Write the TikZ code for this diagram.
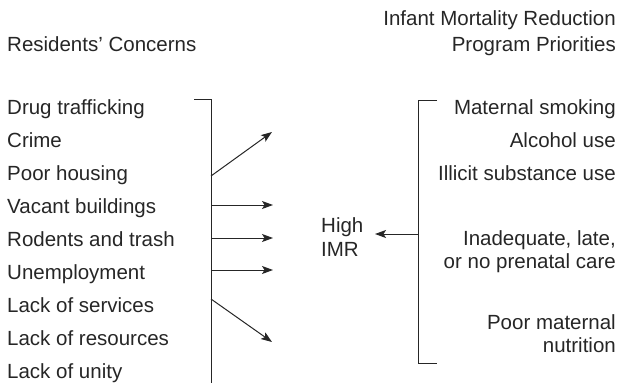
\documentclass[tikz,border=0pt]{standalone}
\usepackage{fontspec}
\setmainfont{Liberation Sans}
\usetikzlibrary{arrows.meta}
\begin{document}
\begin{tikzpicture}[x=1pt,y=-1pt,
  txt/.style={font=\fontsize{20.5}{24}\selectfont, inner sep=0pt, text=black!85},
  ltxt/.style={txt, anchor=base west},
  rtxt/.style={txt, anchor=base east},
  ln/.style={line width=1pt, black!85},
  arr/.style={ln, -{Stealth[length=11pt,width=8pt,inset=2.5pt]}}]
\useasboundingbox (0,0) rectangle (623,383);
% titles
\node[ltxt] (lt) at (7,51) {Residents’ Concerns};
\node[rtxt] (rt1) at (616,25) {Infant Mortality Reduction};
\node[rtxt] (rt2) at (616,51) {Program Priorities};
% left items
\node[ltxt] (l1) at (7,114) {Drug trafficking};
\node[ltxt] (l2) at (7,147) {Crime};
\node[ltxt] (l3) at (7,180) {Poor housing};
\node[ltxt] (l4) at (7,213) {Vacant buildings};
\node[ltxt] (l5) at (7,246) {Rodents and trash};
\node[ltxt] (l6) at (7,279) {Unemployment};
\node[ltxt] (l7) at (7,312) {Lack of services};
\node[ltxt] (l8) at (7,345) {Lack of resources};
\node[ltxt] (l9) at (7,378) {Lack of unity};
% right items
\node[rtxt] (r1) at (616,114) {Maternal smoking};
\node[rtxt] (r2) at (616,147) {Alcohol use};
\node[rtxt] (r3) at (616,180) {Illicit substance use};
\node[rtxt] (r4) at (616,245) {Inadequate, late,};
\node[rtxt] (r5) at (616,268) {or no prenatal care};
\node[rtxt] (r6) at (616,329) {Poor maternal};
\node[rtxt] (r7) at (616,352) {nutrition};
% center
\node[ltxt] (h1) at (321,232) {High};
\node[ltxt] (h2) at (321,256) {IMR};
% left bracket
\coordinate (lbt) at (211,99);
\coordinate (lbb) at (211,383);
\coordinate (lbtick) at (194,99);
\draw[ln] (lbtick) -- (lbt) -- (lbb);
\coordinate (a1s) at (211,176); \coordinate (a1e) at (272,132);
\coordinate (a2s) at (211,205); \coordinate (a2e) at (273,205);
\coordinate (a3s) at (211,238); \coordinate (a3e) at (273,238);
\coordinate (a4s) at (211,270); \coordinate (a4e) at (273,270);
\coordinate (a5s) at (211,299); \coordinate (a5e) at (272,342);
\draw[arr] (a1s) -- (a1e);
\draw[arr] (a2s) -- (a2e);
\draw[arr] (a3s) -- (a3e);
\draw[arr] (a4s) -- (a4e);
\draw[arr] (a5s) -- (a5e);
% right bracket
\coordinate (rbt) at (418,100);
\coordinate (rbb) at (418,363);
\coordinate (rtt) at (437,100);
\coordinate (rtb) at (437,363);
\draw[ln] (rtt) -- (rbt) -- (rbb) -- (rtb);
\coordinate (ras) at (418,234);
\coordinate (rae) at (375,234);
\draw[arr] (ras) -- (rae);
\end{tikzpicture}
\end{document}
